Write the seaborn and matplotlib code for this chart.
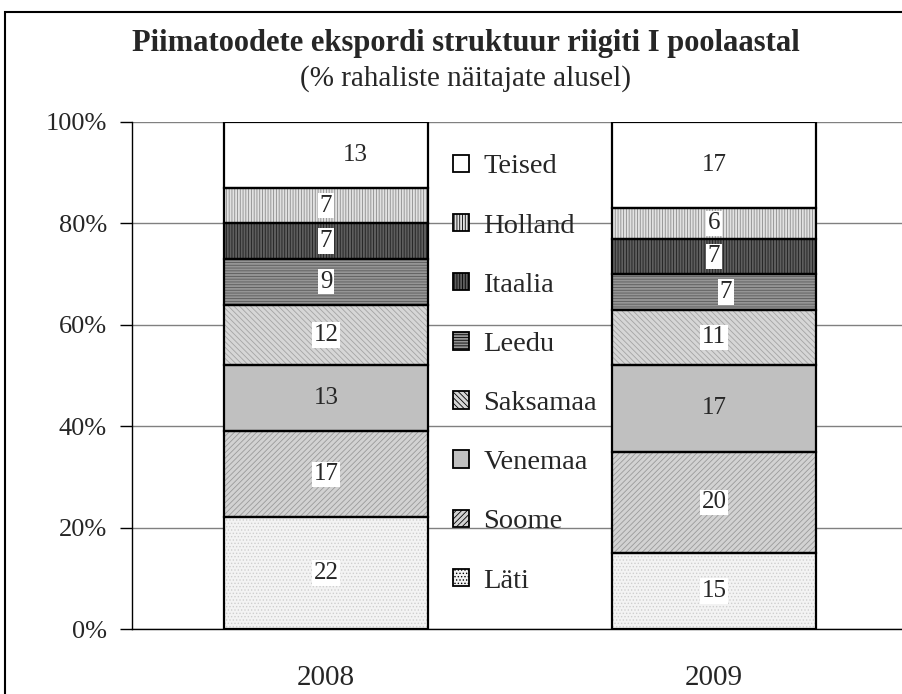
import numpy as np
import matplotlib
matplotlib.use("Agg")
import matplotlib.pyplot as plt
from matplotlib.patches import Patch, Rectangle
import seaborn as sns

sns.set_style("white")
plt.rcParams['font.family'] = ['Liberation Serif', 'DejaVu Serif']
plt.rcParams['hatch.linewidth'] = 0.6

# ---- data ----
years = ["2008", "2009"]
series = ["Läti", "Soome", "Venemaa", "Saksamaa", "Leedu", "Itaalia", "Holland", "Teised"]
laeti = [22, 15]
soome = [17, 20]
venemaa = [13, 17]
saksamaa = [12, 11]
leedu = [9, 7]
itaalia = [7, 7]
holland = [7, 6]
teised = [13, 17]
values = [laeti, soome, venemaa, saksamaa, leedu, itaalia, holland, teised]
title = "Piimatoodete ekspordi struktuur riigiti I poolaastal"
subtitle = "(% rahaliste näitajate alusel)"

# styles: (face, hatch colour, hatch)
styles = {
    "Läti": ("#f3f3f3", "#cfcfcf", "....."),
    "Soome": ("#d2d2d2", "#9a9a9a", "//////"),
    "Venemaa": ("#c0c0c0", "#c0c0c0", ""),
    "Saksamaa": ("#d6d6d6", "#a4a4a4", "\\\\\\\\\\\\"),
    "Leedu": ("#959595", "#5a5a5a", "------"),
    "Itaalia": ("#5e5e5e", "#1e1e1e", "||||||"),
    "Holland": ("#e2e2e2", "#8c8c8c", "||||||"),
    "Teised": ("#ffffff", "#ffffff", ""),
}
boxed = {"Läti", "Soome", "Saksamaa", "Leedu", "Itaalia", "Holland"}
label_dx = {("Teised", 0): 0.075, ("Leedu", 1): 0.03}

fig = plt.figure(figsize=(9.02, 6.94), dpi=100)
ax = fig.add_axes([132/902, 65/694, 776/902, 507/694])

bar_w = 0.526
bottom = np.zeros(len(years))
for name, vals in zip(series, values):
    face, hcol, hatch = styles[name]
    sns.barplot(x=years, y=vals, ax=ax, bottom=bottom, color=face, saturation=1,
                width=bar_w, errorbar=None, edgecolor=hcol, linewidth=0,
                hatch=hatch, zorder=2)
    sns.barplot(x=years, y=vals, ax=ax, bottom=bottom, color="black", saturation=1,
                fill=False, width=bar_w, errorbar=None, edgecolor="black",
                linewidth=1.6, zorder=3)
    for i, v in enumerate(vals):
        dx = label_dx.get((name, i), 0.0)
        bbox = dict(facecolor="white", edgecolor="none", pad=1.2) if name in boxed else None
        ax.text(i + dx, bottom[i] + v / 2, f"{v}", ha="center", va="center",
                fontsize=18, zorder=5, bbox=bbox)
    bottom = bottom + np.array(vals)

ax.set_ylim(0, 100)
ax.set_xlim(-0.5, 1.5)
ax.set_yticks(np.arange(0, 101, 20))
ax.set_yticklabels([f"{t}%" for t in range(0, 101, 20)], fontsize=19)
ax.yaxis.grid(True, color="#808080", linewidth=1.0, zorder=0)
ax.set_axisbelow(True)
ax.set_xticks([0, 1])
ax.set_xticklabels(years, fontsize=21)
ax.set_xticks([-0.5, 0.5, 1.5], minor=True)
ax.tick_params(axis="x", which="major", length=0, pad=26)
ax.tick_params(axis="x", which="minor", length=8, width=1, color="black", direction="out")
ax.tick_params(axis="y", length=9, width=1, color="black", direction="out", pad=9, left=True)
ax.set_xlabel("")
ax.set_ylabel("")
for s in ["top", "right"]:
    ax.spines[s].set_visible(False)
for s in ["left", "bottom"]:
    ax.spines[s].set_color("black")
    ax.spines[s].set_linewidth(1.0)

handles = []
for name in reversed(series):
    face, hcol, hatch = styles[name]
    handles.append(Patch(facecolor=face, edgecolor="black", hatch=hatch, linewidth=1.3))
leg = ax.legend(handles, list(reversed(series)), loc="center left",
                bbox_to_anchor=(0.395, 0.503), frameon=False, fontsize=20.5,
                handlelength=0.57, handleheight=0.57, handletextpad=0.5,
                labelspacing=1.2, borderpad=0)

fig.text(0.516, 1 - 43/694, title, ha="center", va="center", fontsize=22, fontweight="bold")
fig.text(0.516, 1 - 79/694, subtitle, ha="center", va="center", fontsize=21)

fig.patches.append(Rectangle((5/902, -0.1), 1.2, 1 - 12/694 + 0.1, transform=fig.transFigure,
                             fill=False, edgecolor="black", linewidth=1.5))

fig.savefig("out.png", dpi=100)
